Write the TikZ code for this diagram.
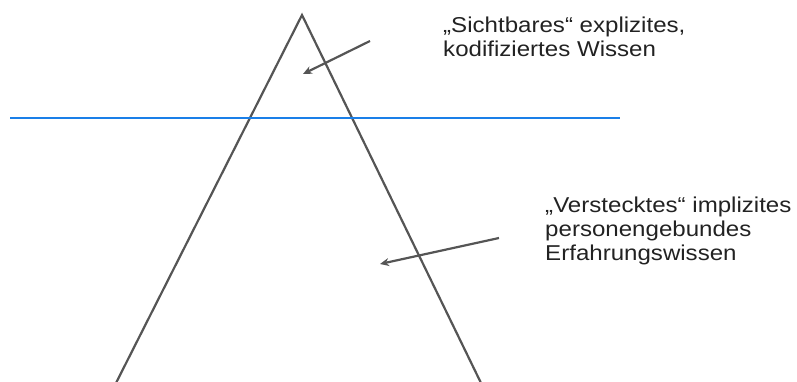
\documentclass[tikz,border=0pt]{standalone}
\usepackage{fontspec}
\setmainfont{Liberation Sans}
\usetikzlibrary{arrows.meta}
\definecolor{linegray}{HTML}{555555}
\definecolor{lineblue}{HTML}{1A7FE8}
\definecolor{textgray}{HTML}{222222}
\begin{document}
\begin{tikzpicture}[x=1pt,y=-1pt,
  edge/.style={draw=linegray,line width=2.2pt},
  pointer/.style={draw=linegray,line width=2.2pt,-{Stealth[length=9pt,width=8pt]}},
  label/.style={anchor=base west,inner sep=0pt,align=left,text=textgray,
    xscale=1.12,transform shape,font=\fontsize{21.5}{23.7}\selectfont}]
\useasboundingbox (0,0) rectangle (797,381);
\coordinate (apex) at (302,15);
\coordinate (bl) at (116,383);
\coordinate (br) at (481,383);
\draw[edge,line join=miter] (bl) -- (apex) -- (br);
\coordinate (hl) at (10,118);
\coordinate (hr) at (620,118);
\draw[draw=lineblue,line width=2.4pt] (hl) -- (hr);
\coordinate (a1s) at (370,41);
\coordinate (a1e) at (303,74);
\draw[pointer] (a1s) -- (a1e);
\coordinate (a2s) at (499,238);
\coordinate (a2e) at (380,264);
\draw[pointer] (a2s) -- (a2e);
\node[label] (t1) at (443,56) {„Sichtbares“ explizites,\\kodifiziertes Wissen};
\node[label] (t2) at (545,260) {„Verstecktes“ implizites\\personengebundes\\Erfahrungswissen};
\end{tikzpicture}
\end{document}
